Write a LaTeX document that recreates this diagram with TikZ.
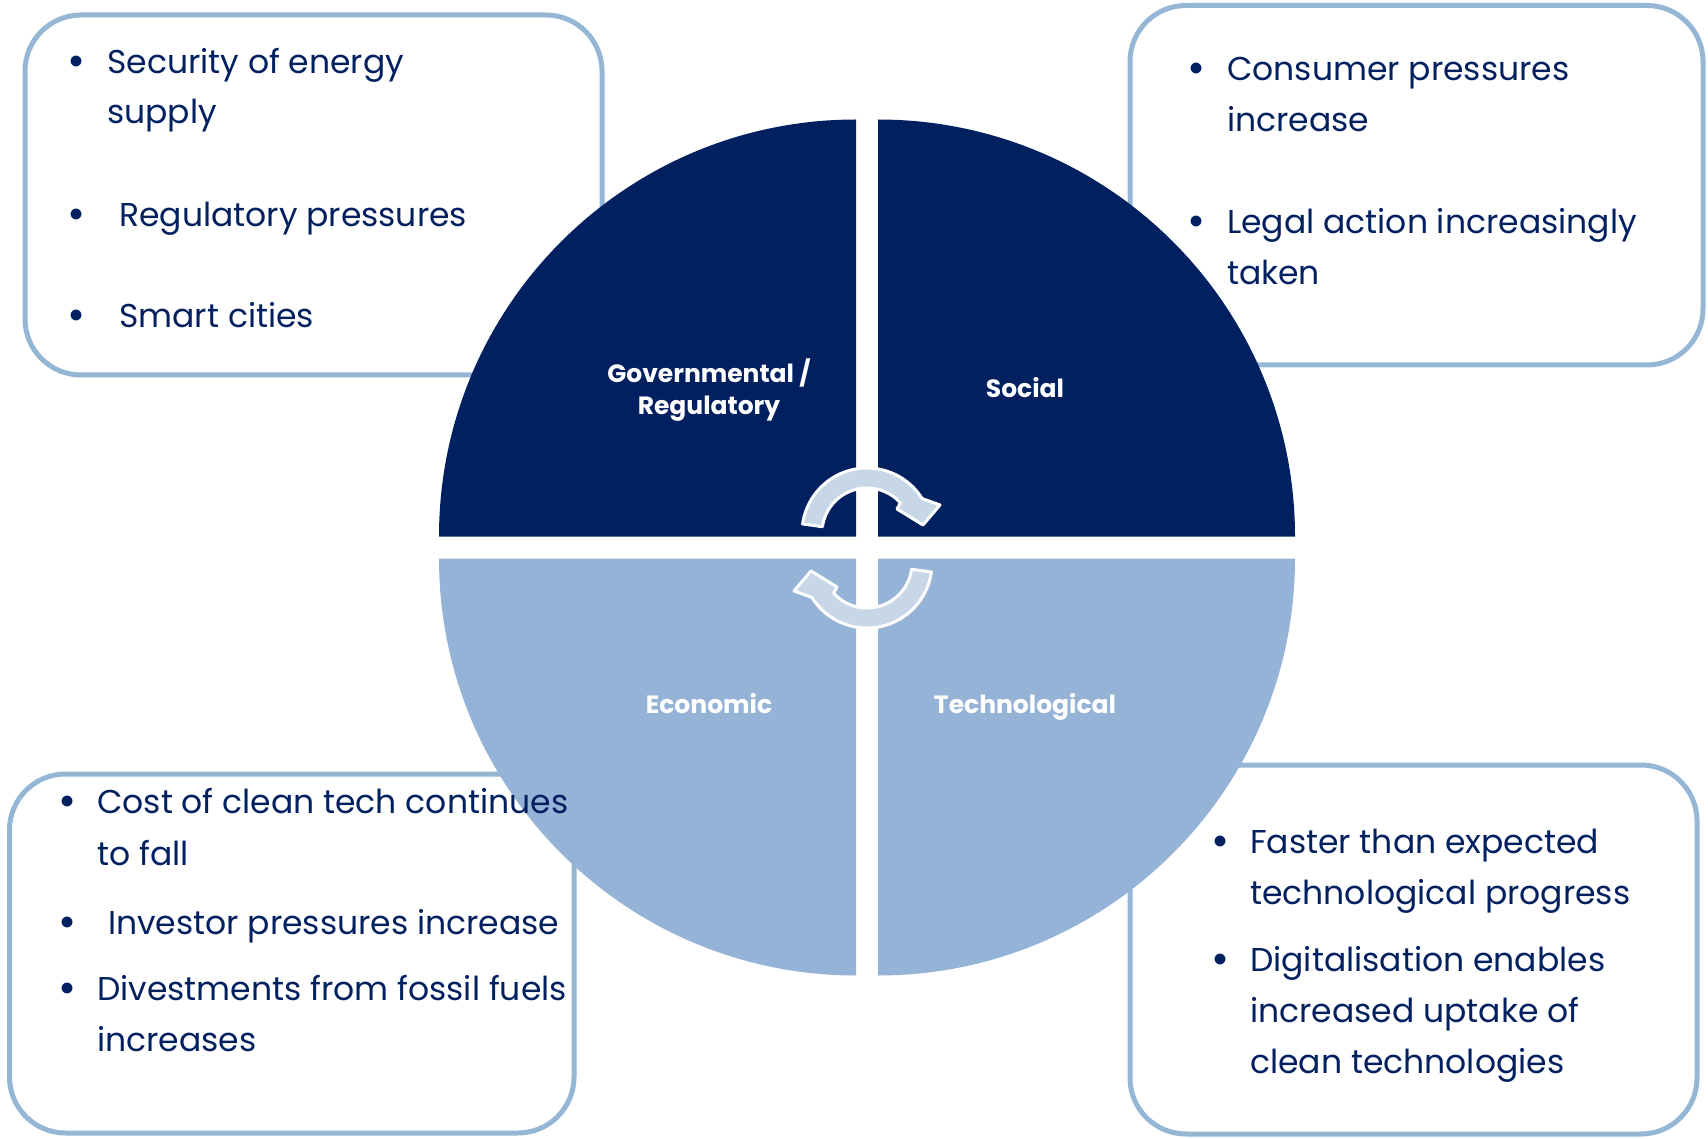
\documentclass[tikz,border=0pt]{standalone}
\usepackage{fontspec}
\setmainfont{Poppins}
\definecolor{navy}{RGB}{0,32,96}
\definecolor{lightq}{RGB}{149,179,215}
\definecolor{boxline}{RGB}{149,182,213}
\definecolor{arrowfill}{RGB}{200,215,232}
\begin{document}
\begin{tikzpicture}[x=1pt,y=-1pt,
  box/.style={draw=boxline,line width=5pt,fill=white,rounded corners=56pt},
  txt/.style={anchor=base west,inner sep=0pt,text=navy,font=\fontsize{33}{40}\selectfont},
  bul/.style={anchor=base,inner sep=0pt,text=navy,font=\fontsize{36}{40}\selectfont\bfseries},
  qlab/.style={anchor=base,inner sep=0pt,text=white,font=\fontsize{25}{30}\selectfont\bfseries},
  cyc/.style={fill=arrowfill,draw=white,line width=3pt,line join=round}]
\useasboundingbox[fill=white] (0,0) rectangle (1708,1139);
% boxes
\draw[box] (25,15) rectangle (602,375);
\draw[box] (1130,5.5) rectangle (1703,365);
\draw[box] (9.5,774) rectangle (574,1133);
\draw[box] (1130,765) rectangle (1697,1134);
% quadrants
\fill[navy] (856,536.5) -- (439,536.5) arc[start angle=180,end angle=270,radius=417] -- cycle;
\fill[navy] (878,536.5) -- (878,119.5) arc[start angle=270,end angle=360,radius=417] -- cycle;
\fill[lightq] (856,558.5) -- (856,975.5) arc[start angle=90,end angle=180,radius=417] -- cycle;
\fill[lightq] (878,558.5) -- (1295,558.5) arc[start angle=0,end angle=90,radius=417] -- cycle;
% cycle arrows
\begin{scope}[shift={(867,533)}]
\path[cyc] (188:65) arc[start angle=188,end angle=328,radius=65] -- (73,-28) -- (56,-8) -- (30,-24) -- (318:45) arc[start angle=318,end angle=188,radius=45] -- cycle;
\end{scope}
\begin{scope}[shift={(867,563)},rotate=180]
\path[cyc] (188:65) arc[start angle=188,end angle=328,radius=65] -- (73,-28) -- (56,-8) -- (30,-24) -- (318:45) arc[start angle=318,end angle=188,radius=45] -- cycle;
\end{scope}
% quadrant labels
\node[qlab] (gov1) at (709,383) {Governmental /};
\node[qlab] (gov2) at (709,414) {Regulatory};
\node[qlab] (soc) at (1025,398) {Social};
\node[qlab] (eco) at (709,713) {Economic};
\node[qlab] (tec) at (1025,713) {Technological};
% top-left box text
\node[bul] (tlb1) at (77,74) {•};
\node[txt] (tl1a) at (107,74) {Security of energy};
\node[txt] (tl1b) at (107,124) {supply};
\node[bul] (tlb2) at (77,227) {•};
\node[txt] (tl2) at (119,227) {Regulatory pressures};
\node[bul] (tlb3) at (77,328) {•};
\node[txt] (tl3) at (119,328) {Smart cities};
% top-right box text
\node[bul] (trb1) at (1197,81) {•};
\node[txt] (tr1a) at (1227,81) {Consumer pressures};
\node[txt] (tr1b) at (1227,132) {increase};
\node[bul] (trb2) at (1197,234) {•};
\node[txt] (tr2a) at (1227,234) {Legal action increasingly};
\node[txt] (tr2b) at (1227,285) {taken};
% bottom-left box text
\node[bul] (blb1) at (68,813) {•};
\node[txt] (bl1a) at (97,813) {Cost of clean tech continues};
\node[txt] (bl1b) at (97,865) {to fall};
\node[bul] (blb2) at (68,934) {•};
\node[txt] (bl2) at (108,934) {Investor pressures increase};
\node[bul] (blb3) at (68,1000) {•};
\node[txt] (bl3a) at (97,1000) {Divestments from fossil fuels};
\node[txt] (bl3b) at (97,1051) {increases};
% bottom-right box text
\node[bul] (brb1) at (1221,853) {•};
\node[txt] (br1a) at (1250,853) {Faster than expected};
\node[txt] (br1b) at (1250,904) {technological progress};
\node[bul] (brb2) at (1221,971) {•};
\node[txt] (br2a) at (1250,971) {Digitalisation enables};
\node[txt] (br2b) at (1250,1022) {increased uptake of};
\node[txt] (br2c) at (1250,1073) {clean technologies};
\end{tikzpicture}
\end{document}
